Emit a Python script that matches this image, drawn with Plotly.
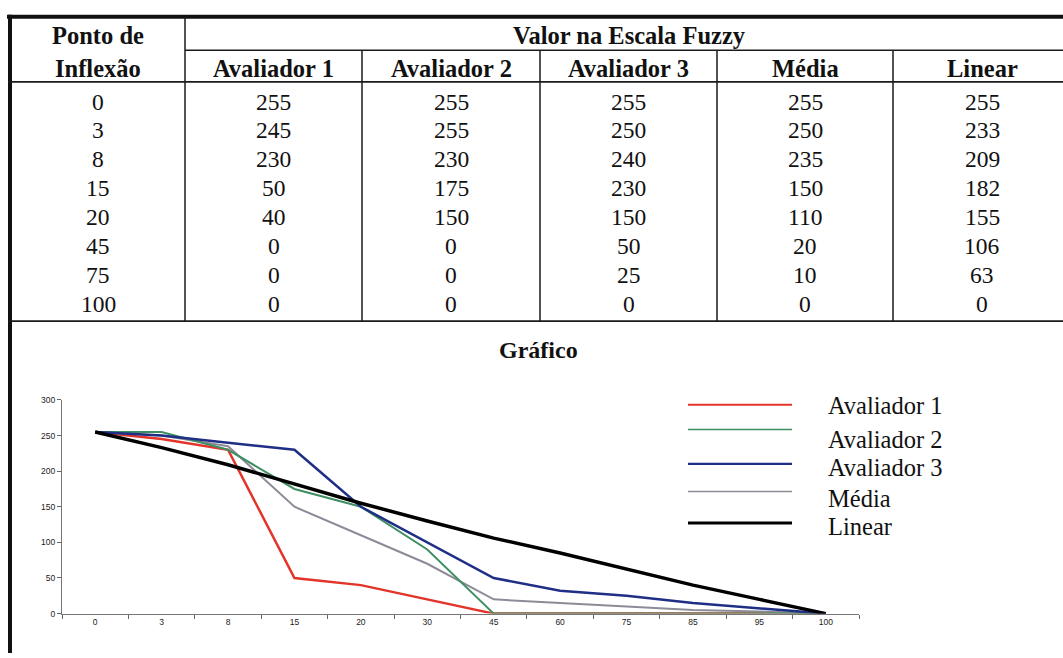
import plotly.graph_objects as go

# Inflection points shown on the chart's category axis
points = ["0", "3", "8", "15", "20", "30", "45", "60", "75", "85", "95", "100"]

# Fuzzy-scale value at each point, per evaluator
avaliador_1 = [255, 245, 230, 50, 40, 20, 0, 0, 0, 0, 0, 0]
avaliador_2 = [255, 255, 230, 175, 150, 90, 0, 0, 0, 0, 0, 0]
avaliador_3 = [255, 250, 240, 230, 150, 100, 50, 32, 25, 15, 8, 0]
media = [255, 250, 235, 150, 110, 70, 20, 15, 10, 5, 3, 0]
linear = [255, 233, 209, 182, 155, 130, 106, 85, 63, 40, 20, 0]

# Points listed in the table above the chart
table_points = ["0", "3", "8", "15", "20", "45", "75", "100"]

series_names = ["Avaliador 1", "Avaliador 2", "Avaliador 3", "Média", "Linear"]
series_values = [avaliador_1, avaliador_2, avaliador_3, media, linear]
series_colors = ["#e3342a", "#3f8f63", "#1f2f86", "#8e8b98", "#000000"]
series_widths = [2.5, 2.0, 2.5, 2.0, 3.5]
legend_widths = [2.0, 1.6, 2.2, 1.4, 3.0]

W, H = 1063, 658


def px(x):
    return x / W


def py(y):
    return 1 - y / H


fig = go.Figure()

# draw order: red, gray, green, blue, black
for i in [0, 3, 1, 2, 4]:
    fig.add_trace(go.Scatter(
        x=points, y=series_values[i], mode="lines", name=series_names[i],
        line=dict(color=series_colors[i], width=series_widths[i]),
        showlegend=False, hoverinfo="x+y+name"))

shapes = []
annotations = []

# ---- table grid ----
def hline(y, x0, x1, w=1.5, c="#1a1a1a"):
    shapes.append(dict(type="line", xref="paper", yref="paper",
                       x0=px(x0), x1=px(x1), y0=py(y), y1=py(y),
                       line=dict(color=c, width=w)))


def vline(x, y0, y1, w=1.5, c="#1a1a1a"):
    shapes.append(dict(type="line", xref="paper", yref="paper",
                       x0=px(x), x1=px(x), y0=py(y0), y1=py(y1),
                       line=dict(color=c, width=w)))


hline(12, 7, 1063, w=4, c="#111111")
vline(10, 10, 658, w=4, c="#111111")
hline(46, 185, 1063)
hline(78, 8, 1063, w=1.8)
hline(321, 8, 1063, w=1.8)
col_edges = [185, 362, 540, 717, 893]
vline(185, 12, 321)
for xe in col_edges[1:]:
    vline(xe, 46, 321)

col_centers = [98, 273.5, 451, 628.5, 805, 982]
serif = "'Liberation Serif', 'Times New Roman', 'DejaVu Serif', serif"


def text(x, y, s, size=23.5, bold=False, anchor="center", color="#111111"):
    annotations.append(dict(
        xref="paper", yref="paper", x=px(x), y=py(y), text=f"<b>{s}</b>" if bold else s,
        showarrow=False, xanchor=anchor, yanchor="middle",
        font=dict(family=serif, size=size, color=color)))


text(col_centers[0], 31, "Ponto de", size=24.5, bold=True)
text(col_centers[0], 64, "Inflexão", size=24.5, bold=True)
text(629, 31, "Valor na Escala Fuzzy", size=24.5, bold=True)
for name, cx in zip(series_names, col_centers[1:]):
    text(cx, 64, name, size=24.5, bold=True)

row_y0, row_step = 98, 29.4
for r, p in enumerate(table_points):
    idx = points.index(p)
    y = row_y0 + r * row_step
    text(col_centers[0], y, p)
    for vals, cx in zip(series_values, col_centers[1:]):
        text(cx, y, str(vals[idx]))

text(538, 350, "Gráfico", size=24, bold=True)

# ---- legend ----
legend_line_y = [406, 431, 466, 494, 526]
legend_text_y = [407, 441, 470, 501, 530]
for i in range(5):
    shapes.append(dict(type="line", xref="paper", yref="paper",
                       x0=px(688), x1=px(792), y0=py(legend_line_y[i]), y1=py(legend_line_y[i]),
                       line=dict(color=series_colors[i], width=legend_widths[i])))
    text(826, legend_text_y[i], series_names[i], size=24.5, anchor="left")

axis_font = dict(family="Arial, 'Liberation Sans', sans-serif", size=8.5, color="#222222")

fig.update_layout(
    width=W, height=H,
    margin=dict(l=0, r=0, t=0, b=0),
    paper_bgcolor="white", plot_bgcolor="white",
    shapes=shapes, annotations=annotations,
    xaxis=dict(
        domain=[px(62), px(859)], type="category", categoryorder="array",
        categoryarray=points, range=[-0.5, 11.5], tickson="boundaries",
        ticks="outside", ticklen=4, tickcolor="#666666", showline=True,
        linecolor="#777777", linewidth=1, showgrid=False, zeroline=False,
        tickfont=axis_font, fixedrange=True),
    yaxis=dict(
        domain=[py(618), py(401)], range=[0, 300], tickvals=[0, 50, 100, 150, 200, 250, 300],
        ticks="outside", ticklen=4, tickcolor="#666666", showline=True,
        linecolor="#777777", linewidth=1, showgrid=False, zeroline=False,
        tickfont=axis_font, fixedrange=True),
    showlegend=False,
)

fig.write_html("out.html")
